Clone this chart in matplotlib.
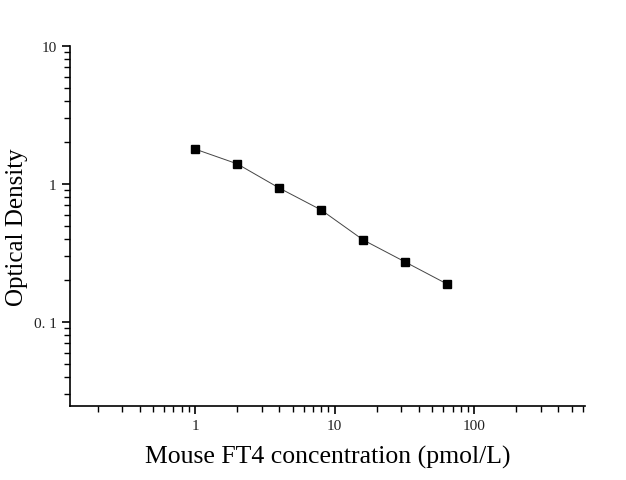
import matplotlib
matplotlib.use('Agg')
import matplotlib.pyplot as plt
from matplotlib.ticker import LogLocator, FixedFormatter, FixedLocator, NullFormatter

# Standard curve data
concentration = [1, 2, 4, 8, 16, 32, 64]
optical_density = [1.79, 1.40, 0.935, 0.648, 0.393, 0.272, 0.188]

x_ticks = [1, 10, 100]
x_tick_labels = ['1', '10', '100']
y_ticks = [0.1, 1, 10]
y_tick_labels = ['0. 1', '1', '10']

plt.rcParams['font.family'] = ['Liberation Serif', 'DejaVu Serif']

fig = plt.figure(figsize=(6.26, 4.81), dpi=100)
ax = fig.add_axes([0.1118, 0.1538, 0.8227, 0.7485])

ax.plot(concentration, optical_density, color='#444444', linewidth=0.7, zorder=2)
ax.plot(concentration, optical_density, linestyle='none', marker='s',
        markersize=6, color='black', zorder=3)

ax.set_xscale('log')
ax.set_yscale('log')
ax.set_xlim(0.127, 620)
ax.set_ylim(0.0246, 10)

ax.xaxis.set_major_locator(FixedLocator(x_ticks))
ax.xaxis.set_major_formatter(FixedFormatter(x_tick_labels))
ax.yaxis.set_major_locator(FixedLocator(y_ticks))
ax.yaxis.set_major_formatter(FixedFormatter(y_tick_labels))
ax.xaxis.set_minor_locator(LogLocator(base=10, subs=range(2, 10), numticks=20))
ax.yaxis.set_minor_locator(LogLocator(base=10, subs=range(2, 10), numticks=20))
ax.xaxis.set_minor_formatter(NullFormatter())
ax.yaxis.set_minor_formatter(NullFormatter())

ax.tick_params(which='major', direction='out', length=6, width=1.2, labelsize=11,
               colors='black', labelcolor='#222222')
ax.tick_params(which='minor', direction='out', length=4, width=1.0)

for side in ('top', 'right'):
    ax.spines[side].set_visible(False)
for side in ('left', 'bottom'):
    ax.spines[side].set_linewidth(1.2)

ax.set_xlabel('Mouse FT4 concentration (pmol/L)', fontsize=18.5, labelpad=9)
ax.set_ylabel('Optical Density', fontsize=18, labelpad=4)

fig.savefig('out.png', dpi=100)
